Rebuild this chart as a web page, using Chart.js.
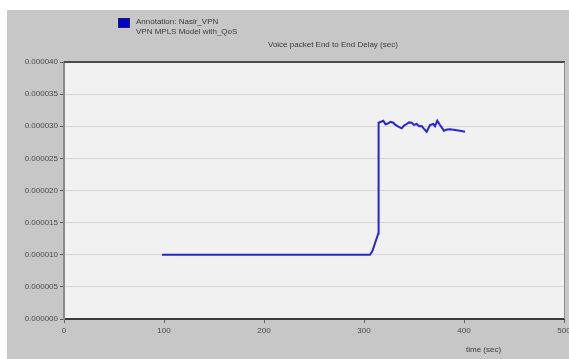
<!DOCTYPE html>
<html>
<head>
<meta charset="utf-8">
<script src="https://cdn.jsdelivr.net/npm/chart.js@4/dist/chart.umd.min.js"></script>
<style>
  body { margin:0; background:#fff; }
  #panel { position:absolute; left:7px; top:10px; width:562px; height:349px; background:#c7c7c7; }
  #chart { position:absolute; left:0; top:0; }
</style>
</head>
<body>
<div id="panel"></div>
<canvas id="chart" width="569" height="359"></canvas>
<script>
// simulation time (sec) and voice packet end-to-end delay (sec)
const times = [98, 306, 308.5, 311, 314.3, 314.6, 317, 319.3, 321.5, 324.3, 326.5, 329.3, 331.5, 334.3, 337.7, 340, 342.7, 345, 347.7, 350, 352.7, 355, 357.7, 360, 362.7, 366, 369.3, 371, 373.3, 376, 380, 383, 386, 391, 396, 401];
const delay = [1.0e-5, 1.0e-5, 1.06e-5, 1.18e-5, 1.33e-5, 3.055e-5, 3.07e-5, 3.086e-5, 3.03e-5, 3.046e-5, 3.07e-5, 3.055e-5, 3.02e-5, 2.993e-5, 2.968e-5, 3.01e-5, 3.035e-5, 3.06e-5, 3.055e-5, 3.02e-5, 3.035e-5, 3.0e-5, 3.004e-5, 2.96e-5, 2.915e-5, 3.019e-5, 3.035e-5, 3.0e-5, 3.086e-5, 3.019e-5, 2.931e-5, 2.95e-5, 2.952e-5, 2.942e-5, 2.931e-5, 2.915e-5];

const seriesName = ['Annotation: Nasir_VPN', 'VPN MPLS Model with_QoS'];
const chartTitle = 'Voice packet End to End Delay (sec)';
const xTitle = 'time (sec)';
const xTicks = [0, 100, 200, 300, 400, 500];
const yTicks = [0, 0.000005, 0.00001, 0.000015, 0.00002, 0.000025, 0.00003, 0.000035, 0.00004];

const lineColor = '#2626d6';

const frame = {
  id: 'frame',
  beforeDraw(chart) {
    const {ctx, chartArea: a} = chart;
    ctx.save();
    ctx.fillStyle = '#f1f1f1';
    ctx.fillRect(a.left, a.top, a.right - a.left, a.bottom - a.top);
    ctx.restore();
  },
  afterDraw(chart) {
    const {ctx, chartArea: a} = chart;
    ctx.save();
    // top and right edges of the plot box
    ctx.strokeStyle = '#4a4a4a';
    ctx.lineWidth = 2;
    ctx.beginPath();
    ctx.moveTo(a.left, a.top);
    ctx.lineTo(a.right + 1, a.top);
    ctx.stroke();
    ctx.strokeStyle = '#8c8c8c';
    ctx.lineWidth = 1;
    ctx.beginPath();
    ctx.moveTo(a.right + 0.5, a.top);
    ctx.lineTo(a.right + 0.5, a.bottom);
    ctx.stroke();

    // legend
    ctx.fillStyle = '#0000cc';
    ctx.fillRect(118, 18, 12, 10);
    ctx.strokeStyle = '#202060';
    ctx.strokeRect(118.5, 18.5, 11, 9);
    ctx.fillStyle = '#3a3a3a';
    ctx.font = '8px "Liberation Sans", Arial, sans-serif';
    ctx.textBaseline = 'middle';
    ctx.textAlign = 'left';
    ctx.fillText(seriesName[0], 136, 22);
    ctx.fillText(seriesName[1], 136, 32);
    ctx.fillText(chartTitle, 268, 45);
    ctx.fillText(xTitle, 466, 350);
    ctx.restore();
  }
};

new Chart(document.getElementById('chart'), {
  type: 'line',
  data: {
    datasets: [{
      label: seriesName.join(' '),
      data: times.map((t, i) => ({x: t, y: delay[i]})),
      borderColor: lineColor,
      borderWidth: 2,
      pointRadius: 0,
      tension: 0,
      fill: false
    }]
  },
  options: {
    responsive: false,
    animation: false,
    layout: {padding: {left: 0, top: 62, right: 5, bottom: 0}},
    plugins: {legend: {display: false}, tooltip: {enabled: false}},
    scales: {
      x: {
        type: 'linear', min: 0, max: 500,
        afterBuildTicks: s => { s.ticks = xTicks.map(v => ({value: v})); },
        afterFit: s => { s.height = 40; s.paddingLeft = 0; s.paddingRight = 0; },
        border: {color: '#3c3c3c', width: 2},
        grid: {drawOnChartArea: false, tickLength: 4, color: '#666'},
        ticks: {color: '#4a4a4a', font: {size: 8, family: 'Liberation Sans'}, padding: 3, maxRotation: 0}
      },
      y: {
        min: 0, max: 0.00004,
        afterBuildTicks: s => { s.ticks = yTicks.map(v => ({value: v})); },
        afterFit: s => { s.width = 64; s.paddingTop = 0; s.paddingBottom = 0; },
        border: {color: '#8a8a8a', width: 2},
        grid: {color: '#d6d6d6', tickColor: '#555', tickLength: 4},
        ticks: {
          color: '#4a4a4a', font: {size: 8, family: 'Liberation Sans'}, padding: 2,
          callback: v => v.toFixed(6)
        }
      }
    }
  },
  plugins: [frame]
});
</script>
</body>
</html>
